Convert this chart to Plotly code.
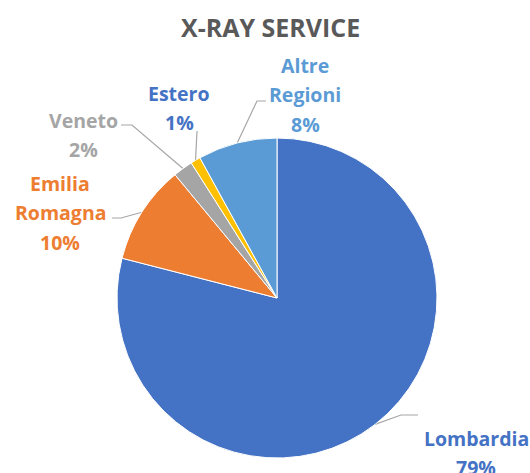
import math
import plotly.graph_objects as go

# ---- data ----
categories = ["Lombardia", "Emilia Romagna", "Veneto", "Estero", "Altre Regioni"]
values = [79, 10, 2, 1, 8]
label_lines = [["Lombardia"], ["Emilia", "Romagna"], ["Veneto"], ["Estero"], ["Altre", "Regioni"]]
title_text = "X-RAY SERVICE"

# ---- styles / layout ----
W, H = 530, 473
slice_colors = ["#4472C4", "#ED7D31", "#A5A5A5", "#FFC000", "#5B9BD5"]
label_colors = ["#4472C4", "#ED7D31", "#A5A5A5", "#4472C4", "#5B9BD5"]
CX, CY, R = 277, 298, 160          # pie centre / radius in pixels
FONT = "Open Sans"
LABEL_SIZE = 19.5
LINE_GAP = 29.5
# label block: (centre x, centre y of first line)
label_pos = [(476, 438), (60, 183), (83, 120), (179, 93), (305, 65)]
# leader line: points after the slice edge point
leader_pts = [
    [(401, 415), (418, 415)],
    [(121, 218), (112, 218)],
    [(132, 125), (121, 125)],
    [(197, 131)],
    [(257, 101), (266, 101)],
]

fig = go.Figure()

fig.add_trace(go.Pie(
    labels=categories,
    values=values,
    sort=False,
    direction="clockwise",
    rotation=0,
    textinfo="none",
    hoverinfo="label+percent",
    marker=dict(colors=slice_colors, line=dict(color="white", width=1)),
    domain=dict(x=[(CX - R) / W, (CX + R) / W],
                y=[(H - CY - R) / H, (H - CY + R) / H]),
    showlegend=False,
))

total = sum(values)
cum = 0.0
annotations = []
for i, v in enumerate(values):
    mid = (cum + v / 2) / total * 2 * math.pi
    cum += v
    ex = CX + R * math.sin(mid)
    ey = CY - R * math.cos(mid)
    xs = [ex] + [p[0] for p in leader_pts[i]]
    ys = [ey] + [p[1] for p in leader_pts[i]]
    fig.add_trace(go.Scatter(x=xs, y=ys, mode="lines",
                             line=dict(color="#A6A6A6", width=1.2),
                             hoverinfo="skip", showlegend=False))
    pct = f"{round(v / total * 100)}%"
    lines = label_lines[i] + [pct]
    lx, ly = label_pos[i]
    for k, t in enumerate(lines):
        annotations.append(dict(
            x=lx, y=ly + k * LINE_GAP, xref="x", yref="y", text=t,
            showarrow=False, xanchor="center", yanchor="middle",
            font=dict(family=FONT, size=LABEL_SIZE, color=label_colors[i], weight="bold"),
        ))

annotations.append(dict(
    x=270, y=26.5, xref="x", yref="y", text=title_text, showarrow=False,
    xanchor="center", yanchor="middle",
    font=dict(family=FONT, size=25, color="#595959", weight="bold"),
))

fig.update_layout(
    width=W, height=H,
    margin=dict(l=0, r=0, t=0, b=0),
    paper_bgcolor="white", plot_bgcolor="rgba(0,0,0,0)",
    xaxis=dict(range=[0, W], visible=False, fixedrange=True),
    yaxis=dict(range=[H, 0], visible=False, fixedrange=True),
    annotations=annotations,
)

fig.write_html("out.html", config={"displayModeBar": False},
               post_script="document.body.style.margin='0';")
